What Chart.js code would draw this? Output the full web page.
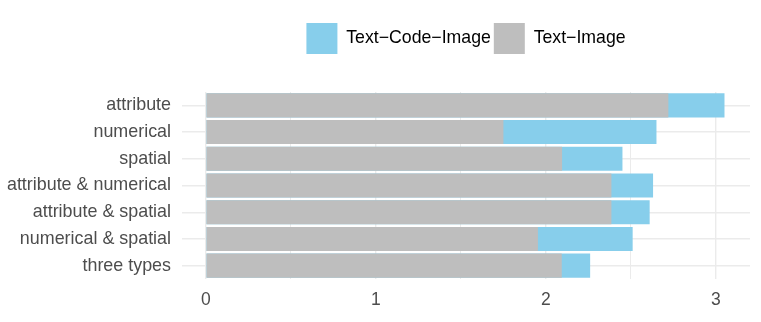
<!DOCTYPE html>
<html>
<head>
<meta charset="utf-8">
<script src="https://cdn.jsdelivr.net/npm/chart.js@4/dist/chart.umd.min.js"></script>
<style>
  body { margin: 0; background: #fff; }
  #wrap { width: 761px; height: 322px; }
</style>
</head>
<body>
<div id="wrap"><canvas id="chart" width="761" height="322"></canvas></div>
<script>
// categories top to bottom
const categories = ['attribute', 'numerical', 'spatial', 'attribute & numerical',
  'attribute & spatial', 'numerical & spatial', 'three types'];
// values
const textImage = [2.72, 1.75, 2.095, 2.385, 2.385, 1.953, 2.093];
const textCodeImage = [3.05, 2.65, 2.45, 2.63, 2.61, 2.51, 2.26];
const xTicks = [0, 1, 2, 3];

const gridColor = '#ebebeb';
const labelColor = '#4d4d4d';
const fontFamily = 'Liberation Sans, Arial, sans-serif';

// more room under the legend, like the ggplot layout
const legendSpacer = {
    id: 'legendSpacer',
    beforeInit(chart) {
        const fit = chart.legend.fit;
        chart.legend.fit = function () {
            fit.bind(chart.legend)();
            this.height += 28;
        };
    }
};

const ctx = document.getElementById('chart').getContext('2d');
const chart = new Chart(ctx, {
    type: 'bar',
    data: {
        labels: categories,
        datasets: [
            {
                label: 'Text\u2212Image',
                data: textImage,
                backgroundColor: '#bebebe',
                grouped: false,
                categoryPercentage: 1,
                barPercentage: 0.9
            },
            {
                label: 'Text\u2212Code\u2212Image',
                data: textCodeImage,
                backgroundColor: '#87ceeb',
                grouped: false,
                categoryPercentage: 1,
                barPercentage: 0.9
            }
        ]
    },
    plugins: [legendSpacer],
    options: {
        indexAxis: 'y',
        responsive: false,
        animation: false,
        layout: { padding: { left: 6, right: 11, top: 20, bottom: 0 } },
        plugins: {
            tooltip: { enabled: false },
            legend: {
                position: 'top',
                reverse: true,
                fullSize: false,
                labels: {
                    boxWidth: 31,
                    boxHeight: 31,
                    padding: 3,
                    color: '#000',
                    font: { family: fontFamily, size: 17.7 }
                }
            }
        },
        scales: {
            x: {
                type: 'linear',
                min: -0.14,
                max: 3.2,
                border: { display: false },
                grid: {
                    color: gridColor,
                    lineWidth: (c) => Number.isInteger(c.tick && c.tick.value) ? 1.4 : 1,
                    drawTicks: false
                },
                ticks: {
                    stepSize: 0.5,
                    includeBounds: false,
                    padding: 11,
                    color: labelColor,
                    font: { family: fontFamily, size: 17.5 },
                    callback: (v) => xTicks.includes(v) ? String(v) : ''
                }
            },
            y: {
                type: 'category',
                border: { display: false },
                afterFit: (axis) => { axis.width = 176; },
                grid: {
                    color: gridColor,
                    lineWidth: 1.4,
                    offset: false,
                    drawTicks: false
                },
                ticks: {
                    padding: 11,
                    color: labelColor,
                    font: { family: fontFamily, size: 17.9 }
                }
            }
        }
    }
});
</script>
</body>
</html>
